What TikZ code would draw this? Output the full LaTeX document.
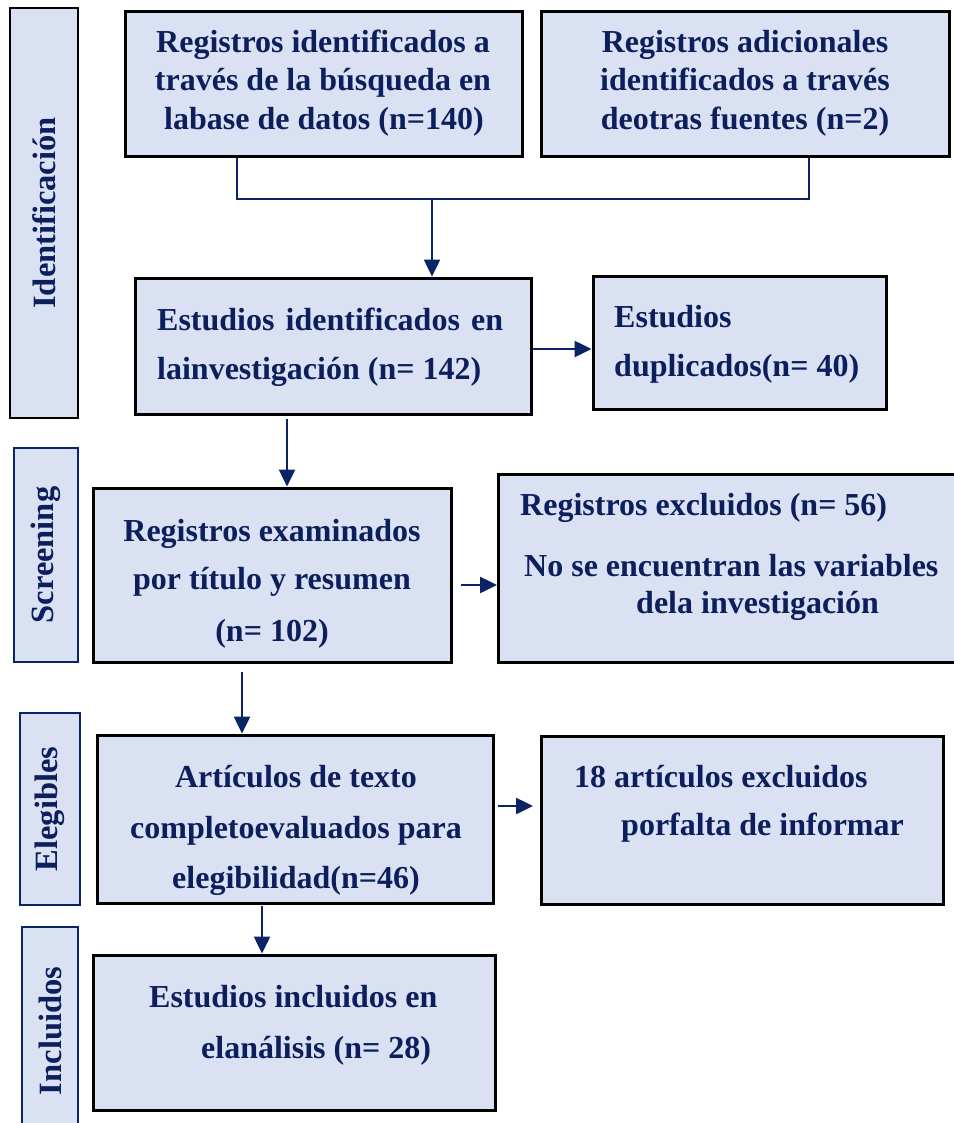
\documentclass[tikz,border=0pt]{standalone}
\usepackage{fontspec}
\setmainfont{Liberation Serif}
\usetikzlibrary{arrows.meta}
\definecolor{boxfill}{RGB}{218,225,243}
\definecolor{navy}{RGB}{12,31,92}
\definecolor{linecol}{RGB}{10,36,102}
\begin{document}
\begin{tikzpicture}[x=1pt,y=-1pt,
  box/.style={draw=black, line width=3pt, fill=boxfill, inner sep=0pt},
  side/.style={fill=boxfill, draw=linecol, line width=1.4pt, inner sep=0pt, rotate=90, text=navy, font=\fontsize{32.5}{32.5}\selectfont\bfseries},
  txt/.style={text=navy, font=\fontsize{32}{32}\selectfont\bfseries, inner sep=0pt},
  ln/.style={draw=linecol, line width=2.5pt},
  arr/.style={ln, -{Triangle[length=17pt,width=16pt]}}]
\useasboundingbox (0,0) rectangle (953,1123);
\fill[white] (0,0) rectangle (953,1123);

% side labels
\node[side, draw=black, line width=2.8pt, minimum width=410pt, minimum height=68pt] (sId) at (44,213) {Identificación};
\node[side, minimum width=214pt, minimum height=64pt] (sSc) at (46,555) {Screening};
\node[side, minimum width=192pt, minimum height=60pt] (sEl) at (50,809) {Elegibles};
\node[side, minimum width=208pt, minimum height=56pt] (sIn) at (50,1031) {Incluidos};

% boxes
\node[box, minimum width=397pt, minimum height=145pt] (A) at (323.5,84.5) {};
\node[box, minimum width=408pt, minimum height=145pt] (B) at (745,84.5) {};
\node[box, minimum width=396pt, minimum height=136pt] (C) at (333,346) {};
\node[box, minimum width=293pt, minimum height=133pt] (D) at (739.5,342.5) {};
\node[box, minimum width=358pt, minimum height=174pt] (E) at (272,575) {};
\node[box, minimum width=470pt, minimum height=188pt] (F) at (733,568) {};
\node[box, minimum width=396pt, minimum height=168pt] (G) at (295,819) {};
\node[box, minimum width=402pt, minimum height=168pt] (H) at (742,820) {};
\node[box, minimum width=402pt, minimum height=155pt] (I) at (294,1032.5) {};

% texts
\node[txt, anchor=base] (a1) at (323,53) {Registros identificados a};
\node[txt, anchor=base] (a2) at (323,91) {través de la búsqueda en};
\node[txt, anchor=base] (a3) at (324,130) {labase de datos (n=140)};

\node[txt, anchor=base] (b1) at (745,53) {Registros adicionales};
\node[txt, anchor=base] (b2) at (745,91) {identificados a través};
\node[txt, anchor=base] (b3) at (745,130) {deotras fuentes (n=2)};

\node[txt, anchor=base west] (c1) at (157,330) {\hbox to 346pt{Estudios\hfill identificados\hfill en}};
\node[txt, anchor=base west] (c2) at (157,379) {lainvestigación (n= 142)};

\node[txt, anchor=base west] (d1) at (614,327) {Estudios};
\node[txt, anchor=base west] (d2) at (614,376) {duplicados(n= 40)};

\node[txt, anchor=base] (e1) at (272,541) {Registros examinados};
\node[txt, anchor=base] (e2) at (272,589) {por título y resumen};
\node[txt, anchor=base] (e3) at (272,641) {(n= 102)};

\node[txt, anchor=base west] (f1) at (520,515) {Registros excluidos (n= 56)};
\node[txt, anchor=base west] (f2) at (524,576) {No se encuentran las variables};
\node[txt, anchor=base west] (f3) at (636,613) {dela investigación};

\node[txt, anchor=base] (g1) at (296,787) {Artículos de texto};
\node[txt, anchor=base] (g2) at (296,838) {completoevaluados para};
\node[txt, anchor=base] (g3) at (296,888) {elegibilidad(n=46)};

\node[txt, anchor=base west] (h1) at (574,787) {18 artículos excluidos};
\node[txt, anchor=base west] (h2) at (621,835) {porfalta de informar};

\node[txt, anchor=base west] (i1) at (149,1007) {Estudios incluidos en};
\node[txt, anchor=base west] (i2) at (201,1058) {elanálisis (n= 28)};

% connectors
\coordinate (ja) at (237,199);
\coordinate (jb) at (809,199);
\coordinate (jm) at (432,199);
\draw[ln] (A.south -| ja) -- (ja) -- (jb) -- (B.south -| jb);
\draw[arr] (jm) -- (C.north -| jm);

\coordinate (cd) at (531,349);
\draw[arr] (C.east |- cd) -- (D.west |- cd);

\coordinate (ce) at (287,419);
\draw[arr] (ce) -- (E.north -| ce);

\coordinate (ef0) at (461,585);
\coordinate (ef1) at (497,585);
\draw[arr] (ef0) -- (ef1);

\coordinate (eg) at (242,672);
\draw[arr] (eg) -- (G.north -| eg);

\coordinate (gh0) at (498,806);
\coordinate (gh1) at (533,806);
\draw[arr] (gh0) -- (gh1);

\coordinate (gi) at (262,906);
\draw[arr] (gi) -- (I.north -| gi);
\end{tikzpicture}
\end{document}
